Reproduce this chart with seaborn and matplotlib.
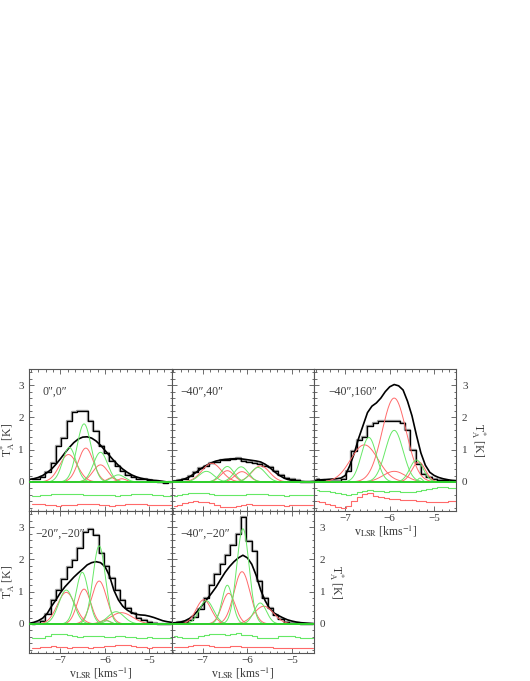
import numpy as np
import pandas as pd
import matplotlib
matplotlib.use("Agg")
import matplotlib.pyplot as plt
import seaborn as sns
from matplotlib.ticker import MultipleLocator, AutoMinorLocator

# ─────────────────────────────────────────────────────────────
# DATA
# ─────────────────────────────────────────────────────────────
POS_LABELS = ["0\u2033,0\u2033", "\u221240\u2033,40\u2033", "\u221240\u2033,160\u2033",
              "\u221220\u2033,\u221220\u2033", "\u221240\u2033,\u221220\u2033"]

# channel centres of the observed spectra [km/s]
CHAN_V = [-7.64, -7.52, -7.40, -7.28, -7.16, -7.04, -6.92, -6.80, -6.68,
          -6.56, -6.44, -6.32, -6.20, -6.08, -5.96, -5.84, -5.72, -5.60,
          -5.48, -5.36, -5.24, -5.12, -5.00, -4.88, -4.76, -4.64, -4.52]

HIST_1 = [0.08, 0.10, 0.15, 0.30, 0.60, 1.10, 1.35, 1.90, 2.17, 2.20, 2.20, 1.90, 1.58, 1.13,
          0.90, 0.65, 0.50, 0.33, 0.22, 0.15, 0.10, 0.08, 0.05, 0.03, 0.00, -0.02, 0.00]
HIST_2 = [0.02, 0.05, 0.10, 0.18, 0.30, 0.42, 0.50, 0.58, 0.63, 0.67, 0.68, 0.72, 0.73, 0.66,
          0.63, 0.60, 0.55, 0.48, 0.45, 0.35, 0.22, 0.12, 0.08, 0.05, 0.00, 0.00, 0.00]
HIST_3 = [0.10, 0.05, 0.02, 0.02, 0.02, 0.08, 0.35, 0.95, 1.30, 1.40, 1.72, 1.84, 1.90, 1.90,
          1.90, 1.88, 1.82, 1.60, 1.00, 0.55, 0.25, 0.15, 0.10, 0.07, 0.05, 0.04, 0.03]
HIST_4 = [0.00, 0.02, 0.10, 0.30, 0.75, 1.05, 1.40, 1.75, 1.97, 2.35, 2.85, 2.95, 2.75, 2.20,
          1.80, 1.43, 1.05, 0.75, 0.50, 0.33, 0.20, 0.12, 0.07, 0.03, 0.00, 0.00, 0.00]
HIST_5 = [0.02, 0.05, 0.07, 0.12, 0.22, 0.45, 0.80, 1.20, 1.55, 1.85, 2.15, 2.45, 2.80, 3.30,
          2.58, 2.27, 1.33, 0.80, 0.50, 0.28, 0.14, 0.07, 0.04, 0.02, 0.00, 0.00, 0.00]

# residuals of the two fitted lines (green / red)
RES_G_1 = [-0.02, -0.02, -0.01, 0.00, 0.02, 0.03, 0.04, 0.03, 0.04, 0.02, 0.00, -0.01, 0.00, 0.01,
           -0.01, 0.00, -0.02, -0.01, 0.01, 0.02, 0.04, 0.03, 0.03, 0.01, -0.01, -0.02, -0.02]
RES_R_1 = [0.03, 0.03, 0.02, 0.00, -0.02, -0.03, -0.02, -0.02, 0.00, 0.02, 0.02, 0.01, 0.02, -0.01,
           -0.02, -0.03, -0.01, 0.00, 0.01, 0.02, 0.02, 0.01, 0.00, -0.02, -0.02, -0.02, -0.01]
RES_G_2 = [-0.02, 0.00, 0.04, 0.06, 0.07, 0.06, 0.05, 0.03, 0.00, -0.01, 0.00, 0.01, -0.01, 0.00,
           0.02, 0.03, 0.03, 0.02, 0.00, -0.01, 0.00, -0.02, -0.01, -0.01, 0.00, 0.01, -0.01]
RES_R_2 = [-0.03, 0.00, 0.04, 0.08, 0.10, 0.09, 0.07, 0.04, 0.00, -0.06, -0.08, -0.07, -0.03, 0.00,
           0.01, -0.01, 0.00, 0.00, -0.02, -0.01, -0.02, -0.03, -0.02, -0.02, -0.01, -0.02, -0.01]
RES_G_3 = [0.16, 0.13, 0.11, 0.10, 0.06, 0.02, 0.00, 0.03, 0.10, 0.13, 0.14, 0.12, 0.11, 0.10,
           0.12, 0.13, 0.10, 0.08, 0.10, 0.13, 0.15, 0.18, 0.22, 0.25, 0.25, 0.22, 0.20]
RES_R_3 = [0.10, 0.07, 0.02, -0.02, -0.07, -0.10, -0.05, 0.10, 0.25, 0.34, 0.37, 0.28, 0.22, 0.20,
           0.18, 0.16, 0.15, 0.14, 0.15, 0.12, 0.10, 0.08, 0.07, 0.08, 0.08, 0.10, 0.12]
RES_G_4 = [-0.05, -0.05, -0.03, 0.02, 0.08, 0.10, 0.09, 0.05, 0.02, 0.00, 0.02, 0.04, 0.03, 0.02,
           0.00, 0.01, 0.03, 0.02, 0.00, -0.01, -0.02, -0.02, -0.01, -0.02, -0.03, -0.02, -0.02]
RES_R_4 = [-0.05, -0.04, -0.02, 0.00, 0.01, 0.00, -0.02, -0.03, -0.02, 0.00, -0.02, -0.03, -0.02, 0.00,
           0.01, 0.02, 0.04, 0.05, 0.04, 0.02, 0.00, -0.02, -0.03, -0.02, -0.02, -0.01, 0.00]
RES_G_5 = [0.02, 0.00, -0.05, -0.05, -0.02, 0.02, 0.07, 0.10, 0.10, 0.08, 0.05, 0.10, 0.12, 0.07,
           0.05, 0.02, -0.02, -0.05, -0.05, -0.02, 0.02, 0.03, 0.02, 0.00, -0.02, -0.02, -0.03]
RES_R_5 = [-0.02, -0.02, 0.00, 0.02, 0.05, 0.05, 0.04, 0.02, 0.00, -0.02, 0.00, 0.02, 0.03, 0.00,
           -0.02, -0.02, 0.00, 0.00, -0.02, -0.03, -0.04, -0.05, -0.05, -0.05, -0.04, -0.05, -0.05]

# second (smooth) spectrum, sampled every 0.1 km/s
SMOOTH_V = [-7.7, -7.6, -7.5, -7.4, -7.3, -7.2, -7.1, -7.0, -6.9, -6.8, -6.7, -6.6, -6.5,
            -6.4, -6.3, -6.2, -6.1, -6.0, -5.9, -5.8, -5.7, -5.6, -5.5, -5.4, -5.3, -5.2,
            -5.1, -5.0, -4.9, -4.8, -4.7, -4.6, -4.5]
SMOOTH_1 = [0.08, 0.10, 0.14, 0.20, 0.29, 0.40, 0.55, 0.72, 0.90, 1.07, 1.22, 1.33, 1.39,
            1.40, 1.36, 1.27, 1.14, 0.98, 0.82, 0.66, 0.52, 0.40, 0.30, 0.22, 0.16, 0.12,
            0.09, 0.07, 0.05, 0.04, 0.02, 0.00, -0.01]
SMOOTH_2 = [0.02, 0.03, 0.06, 0.10, 0.16, 0.25, 0.35, 0.45, 0.53, 0.60, 0.65, 0.68, 0.70,
            0.71, 0.72, 0.72, 0.71, 0.69, 0.67, 0.65, 0.62, 0.55, 0.45, 0.33, 0.22, 0.14,
            0.08, 0.05, 0.03, 0.02, 0.01, 0.01, 0.02]
SMOOTH_3 = [0.05, 0.06, 0.07, 0.08, 0.09, 0.10, 0.12, 0.20, 0.50, 0.88, 1.35, 1.75, 2.15,
            2.35, 2.45, 2.60, 2.80, 2.95, 3.02, 2.98, 2.85, 2.50, 2.05, 1.45, 0.90, 0.52,
            0.30, 0.20, 0.14, 0.10, 0.07, 0.05, 0.04]
SMOOTH_4 = [0.02, 0.05, 0.10, 0.18, 0.32, 0.55, 0.75, 0.97, 1.15, 1.30, 1.45, 1.58, 1.70,
            1.83, 1.90, 1.93, 1.90, 1.78, 1.50, 1.05, 0.75, 0.55, 0.43, 0.35, 0.30, 0.28,
            0.27, 0.24, 0.20, 0.15, 0.10, 0.07, 0.05]
SMOOTH_5 = [0.03, 0.04, 0.06, 0.10, 0.17, 0.28, 0.43, 0.60, 0.78, 0.96, 1.15, 1.38, 1.60,
            1.78, 1.93, 2.05, 2.13, 2.05, 1.85, 1.50, 1.05, 0.72, 0.48, 0.34, 0.26, 0.19,
            0.13, 0.09, 0.06, 0.04, 0.03, 0.02, 0.01]

# gaussian components: (amplitude [K], centre [km/s], sigma [km/s])
GREEN_1 = [(1.07, -6.80, 0.15), (1.80, -6.47, 0.16), (0.92, -6.10, 0.16), (0.22, -5.70, 0.15)]
RED_1 = [(0.85, -6.82, 0.20), (1.05, -6.43, 0.17), (0.53, -6.10, 0.17), (0.13, -5.85, 0.10),
         (0.10, -5.62, 0.10)]
GREEN_2 = [(0.33, -6.92, 0.17), (0.48, -6.45, 0.15), (0.47, -6.14, 0.16), (0.45, -5.76, 0.17)]
RED_2 = [(0.58, -6.80, 0.22), (0.35, -6.45, 0.15), (0.32, -6.12, 0.16), (0.50, -5.70, 0.20)]
GREEN_3 = [(1.38, -6.47, 0.17), (1.60, -5.90, 0.20), (0.68, -5.40, 0.15), (0.12, -5.32, 0.05)]
RED_3 = [(1.15, -6.57, 0.31), (2.60, -5.90, 0.27), (0.33, -5.90, 0.25), (0.62, -5.35, 0.15)]
GREEN_4 = [(1.05, -6.87, 0.17), (1.60, -6.51, 0.14), (2.42, -6.13, 0.14), (0.38, -5.75, 0.18),
           (0.10, -5.95, 0.08)]
RED_4 = [(0.98, -6.87, 0.20), (1.08, -6.47, 0.15), (1.33, -6.13, 0.17), (0.35, -5.63, 0.25),
         (0.12, -6.00, 0.10)]
GREEN_5 = [(0.72, -6.92, 0.16), (1.20, -6.45, 0.12), (2.95, -6.10, 0.14), (0.65, -5.71, 0.14)]
RED_5 = [(0.75, -6.98, 0.17), (0.95, -6.42, 0.15), (1.62, -6.12, 0.18), (0.55, -5.63, 0.22)]

# ─────────────────────────────────────────────────────────────
# STYLE
# ─────────────────────────────────────────────────────────────
XLIM = (-7.7, -4.5)
YLIM = (-0.9, 3.5)
RES_OFF_G = -0.40      # vertical offset of the green residuals
RES_OFF_R = -0.70      # vertical offset of the red residuals
LABEL_X = [0.09, 0.06, 0.10, 0.04, 0.06]   # axes-fraction x of each position label
TXT = "#3a3a3a"
C_GREEN = "#66e866"
C_RED = "#ff6a6a"
C_BASE = "#22cc22"

sns.set_theme(style="ticks")
plt.rcParams["font.family"] = ["Liberation Serif", "DejaVu Serif"]
plt.rcParams["mathtext.fontset"] = "stix"
plt.rcParams["axes.edgecolor"] = "#555555"
plt.rcParams["axes.linewidth"] = 0.8
plt.rcParams["xtick.color"] = "#555555"
plt.rcParams["ytick.color"] = "#555555"
plt.rcParams["xtick.labelcolor"] = TXT
plt.rcParams["ytick.labelcolor"] = TXT
plt.rcParams["axes.labelcolor"] = TXT
plt.rcParams["text.color"] = TXT

V_FINE = np.linspace(XLIM[0], XLIM[1], 401)


def draw_panel(ax, label, lab_x, hist, smooth, greens, reds, res_g, res_r):
    hdf = pd.DataFrame({"v": CHAN_V, "T": hist})
    sns.lineplot(data=hdf, x="v", y="T", ax=ax, color="#a0a0a0", lw=1.7,
                 drawstyle="steps-mid", errorbar=None)
    sns.lineplot(data=hdf, x="v", y="T", ax=ax, color="black", lw=0.9,
                 drawstyle="steps-mid", errorbar=None)

    sns.lineplot(x=SMOOTH_V, y=smooth, ax=ax, color="black", lw=1.2, errorbar=None)

    for comps, col in ((reds, C_RED), (greens, C_GREEN)):
        for amp, cen, sig in comps:
            prof = amp * np.exp(-0.5 * ((V_FINE - cen) / sig) ** 2)
            sns.lineplot(x=V_FINE, y=prof, ax=ax, color=col, lw=0.7, errorbar=None)

    ax.axhline(0, color=C_BASE, lw=1.2, zorder=3)

    sns.lineplot(x=CHAN_V, y=np.array(res_g) + RES_OFF_G, ax=ax, color=C_GREEN, lw=0.8,
                 drawstyle="steps-mid", errorbar=None)
    sns.lineplot(x=CHAN_V, y=np.array(res_r) + RES_OFF_R, ax=ax, color=C_RED, lw=0.8,
                 drawstyle="steps-mid", errorbar=None)

    ax.text(lab_x, 0.84, label, transform=ax.transAxes, fontsize=8.5, va="center", ha="left")


fig, axes = plt.subplots(2, 3, figsize=(5.3, 6.81), dpi=100,
                         gridspec_kw={"wspace": 0, "hspace": 0})
fig.subplots_adjust(left=0.0553, right=0.8613, top=0.4581, bottom=0.0411)

panels = [
    (axes[0, 0], HIST_1, SMOOTH_1, GREEN_1, RED_1, RES_G_1, RES_R_1),
    (axes[0, 1], HIST_2, SMOOTH_2, GREEN_2, RED_2, RES_G_2, RES_R_2),
    (axes[0, 2], HIST_3, SMOOTH_3, GREEN_3, RED_3, RES_G_3, RES_R_3),
    (axes[1, 0], HIST_4, SMOOTH_4, GREEN_4, RED_4, RES_G_4, RES_R_4),
    (axes[1, 1], HIST_5, SMOOTH_5, GREEN_5, RED_5, RES_G_5, RES_R_5),
]
for i, (ax, *rest) in enumerate(panels):
    draw_panel(ax, POS_LABELS[i], LABEL_X[i], *rest)

axes[1, 2].axis("off")

YLABEL = r"T$_{\rm A}^{*}$ [K]"
XLABEL = r"v$_{\rm LSR}$ [kms$^{-1}$]"

for ax, lab_l, lab_r, lab_b in [(axes[0, 0], True, False, False),
                                (axes[0, 1], False, False, False),
                                (axes[0, 2], False, True, True),
                                (axes[1, 0], True, False, True),
                                (axes[1, 1], False, True, True)]:
    ax.set_xlim(*XLIM)
    ax.set_ylim(*YLIM)
    ax.xaxis.set_major_locator(MultipleLocator(1))
    ax.xaxis.set_minor_locator(AutoMinorLocator(6))
    ax.yaxis.set_major_locator(MultipleLocator(1))
    ax.yaxis.set_minor_locator(AutoMinorLocator(5))
    ax.tick_params(which="both", direction="in", top=True, right=True, bottom=True, left=True,
                   labelleft=lab_l, labelright=lab_r, labelbottom=lab_b, labeltop=False,
                   labelsize=8, width=0.6)
    ax.tick_params(axis="x", pad=2.5)
    ax.tick_params(axis="y", pad=4)
    ax.tick_params(which="major", length=3.5)
    ax.tick_params(which="minor", length=1.8)
    ax.set_xlabel(XLABEL if lab_b else "", fontsize=8.5, labelpad=0)
    if lab_l:
        ax.set_ylabel(YLABEL, fontsize=8.5, labelpad=1)
    elif lab_r:
        ax.yaxis.set_label_position("right")
        ax.set_ylabel(YLABEL, fontsize=8.5, rotation=270, va="bottom", labelpad=1)
    else:
        ax.set_ylabel("")

fig.savefig("out.png", dpi=100)
